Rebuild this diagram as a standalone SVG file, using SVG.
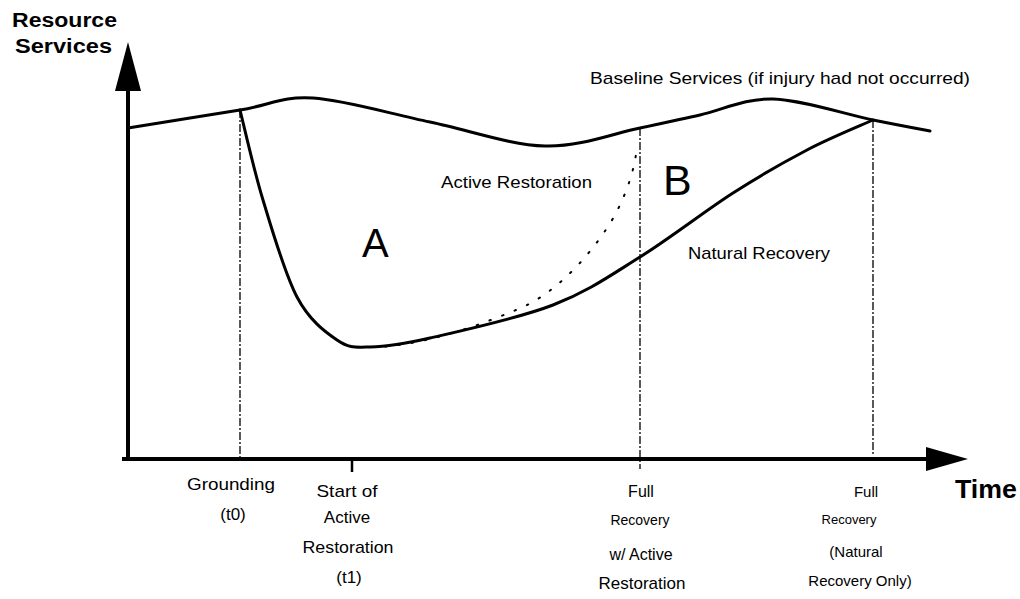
<svg xmlns="http://www.w3.org/2000/svg" width="1020" height="599" viewBox="0 0 1020 599">
  <style>
    .lbl { font-family: "Liberation Sans", Arial, sans-serif; fill: #000; }
    .axis-title { font-weight: bold; }
    .curve { fill: none; stroke: #000; stroke-width: 3; stroke-linecap: round; stroke-linejoin: round; }
    .guide { fill: none; stroke: #000; stroke-width: 1.3; stroke-dasharray: 8 2 2 2; }
    .dotted { fill: none; stroke: #000; stroke-width: 2; stroke-linecap: round; stroke-dasharray: 1.5 12; }
    .axis { fill: none; stroke: #000; stroke-width: 4; }
  </style>
  <rect width="1020" height="599" fill="#fff"/>

  <!-- axes -->
  <g id="axes">
    <line class="axis" x1="128" y1="85" x2="128" y2="461"/>
    <line class="axis" x1="122" y1="459" x2="932" y2="459" stroke-width="3.5"/>
    <polygon points="128,42 141,91 115,91" fill="#000"/>
    <polygon points="968,459 926,447 926,471" fill="#000"/>
    <line x1="352" y1="459" x2="352" y2="472" stroke="#000" stroke-width="2.5"/>
    <text class="lbl axis-title" x="12" y="27" font-size="20" textLength="105" lengthAdjust="spacingAndGlyphs">Resource</text>
    <text class="lbl axis-title" x="15" y="53" font-size="20" textLength="97" lengthAdjust="spacingAndGlyphs">Services</text>
    <text class="lbl axis-title" x="955" y="498" font-size="25" textLength="62" lengthAdjust="spacingAndGlyphs">Time</text>
  </g>

  <!-- event markers on the time axis -->
  <g id="guides">
    <line class="guide" x1="240" y1="110" x2="240" y2="459"/>
    <line class="guide" x1="640" y1="128" x2="640" y2="469"/>
    <line class="guide" x1="873" y1="120" x2="873" y2="456"/>
  </g>

  <!-- service curves -->
  <g id="connectors">
    <path id="baseline" class="curve" d="M128,128 C146.7,125 209.2,115 240,110 C270.8,105 281.3,96 313,98 C344.7,100 391.3,114 430,122 C468.7,130 510,145 545,146 C580,147 614.2,133.2 640,128 C665.8,122.8 677.8,119.8 700,115 C722.2,110.2 744.2,98.2 773,99 C801.8,99.8 846.8,114.7 873,120 C899.2,125.3 920.5,129.2 930,131"/>
    <path id="natural-recovery" class="curve" d="M240,110 C243.8,125 253.5,168.8 263,200 C272.5,231.2 284.7,273.7 297,297 C309.3,320.3 324.8,331.7 337,340 C349.2,348.3 354.5,347.3 370,347 C385.5,346.7 399.5,345 430,338 C460.5,331 518,318.5 553,305 C588,291.5 610,275.7 640,257 C670,238.3 705.2,210.8 733,193 C760.8,175.2 783.7,162.2 807,150 C830.3,137.8 862,125 873,120"/>
    <path id="active-restoration" class="dotted" d="M385,346.5 C420,344 470,330 523,307 C560,290 595,250 615,215 C628,190 634,170 637,148"/>
  </g>

  <g id="region-a"><text class="lbl" x="362" y="257" font-size="40">A</text></g>
  <g id="region-b"><text class="lbl" x="663" y="195" font-size="43">B</text></g>

  <g id="curve-labels">
    <text class="lbl" x="590" y="84" font-size="17" textLength="380" lengthAdjust="spacingAndGlyphs">Baseline Services (if injury had not occurred)</text>
    <text class="lbl" x="441" y="188" font-size="17" textLength="151" lengthAdjust="spacingAndGlyphs">Active Restoration</text>
    <text class="lbl" x="688" y="259" font-size="17" textLength="142" lengthAdjust="spacingAndGlyphs">Natural Recovery</text>
  </g>

  <g id="t0" text-anchor="middle">
    <text class="lbl" x="231" y="490" font-size="17" textLength="88" lengthAdjust="spacingAndGlyphs">Grounding</text>
    <text class="lbl" x="233" y="520" font-size="17">(t0)</text>
  </g>
  <g id="t1" text-anchor="middle">
    <text class="lbl" x="347" y="497" font-size="17" textLength="61" lengthAdjust="spacingAndGlyphs">Start of</text>
    <text class="lbl" x="347" y="523" font-size="17">Active</text>
    <text class="lbl" x="348" y="553" font-size="17" textLength="91" lengthAdjust="spacingAndGlyphs">Restoration</text>
    <text class="lbl" x="349" y="583" font-size="17">(t1)</text>
  </g>
  <g id="full-active" text-anchor="middle">
    <text class="lbl" x="641" y="497" font-size="16">Full</text>
    <text class="lbl" x="640" y="525" font-size="14">Recovery</text>
    <text class="lbl" x="641" y="560" font-size="16">w/ Active</text>
    <text class="lbl" x="642" y="589" font-size="17">Restoration</text>
  </g>
  <g id="full-natural" text-anchor="middle">
    <text class="lbl" x="866" y="497" font-size="15">Full</text>
    <text class="lbl" x="849" y="524" font-size="13">Recovery</text>
    <text class="lbl" x="856" y="557" font-size="15">(Natural</text>
    <text class="lbl" x="860" y="586" font-size="15">Recovery Only)</text>
  </g>
</svg>
